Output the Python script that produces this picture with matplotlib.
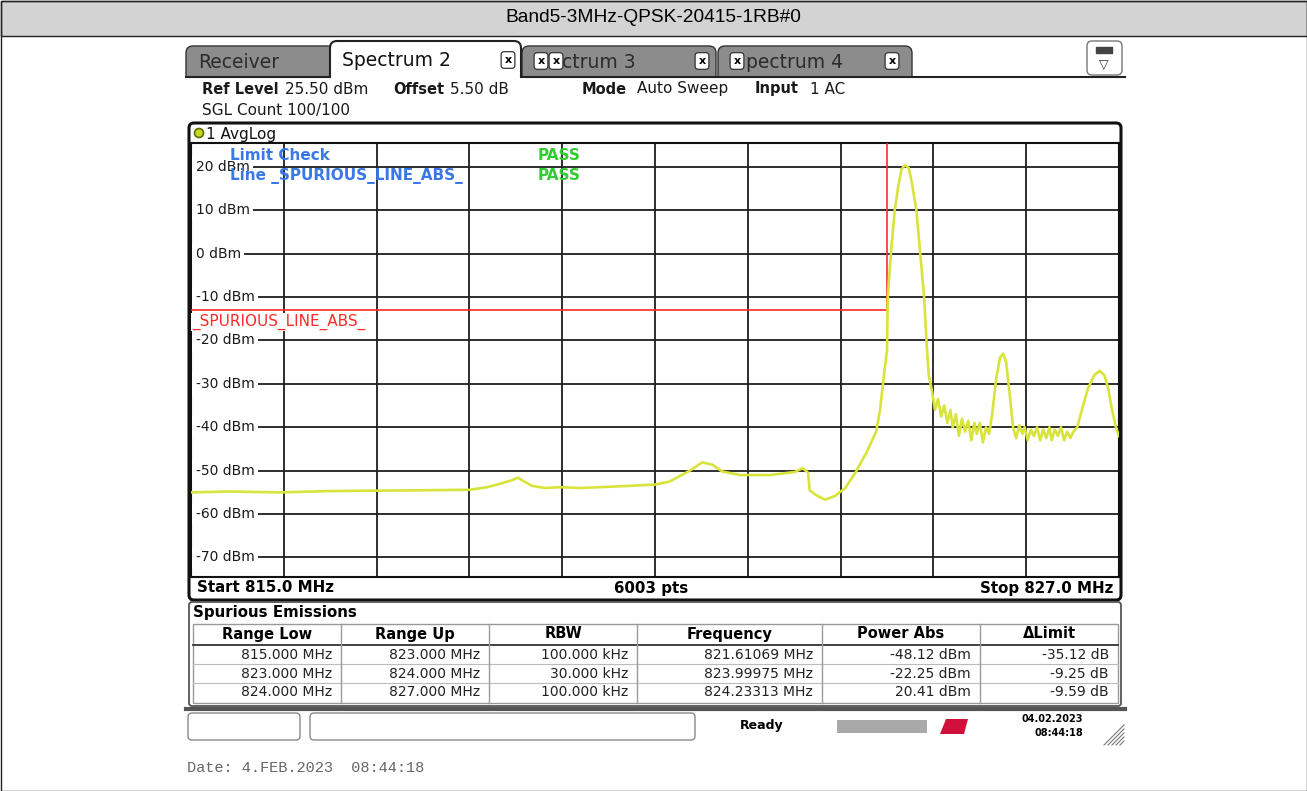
import numpy as np
import matplotlib.pyplot as plt
from matplotlib.patches import Rectangle, FancyBboxPatch, Circle, Polygon

plt.rcParams['font.family'] = 'DejaVu Sans'

W, H = 1307, 791
title = 'Band5-3MHz-QPSK-20415-1RB#0'

# trace (MHz / dBm)
freq = [815.00, 815.50, 816.15, 816.80, 817.44, 818.09, 818.61, 818.83, 819.00, 819.15,
        819.23, 819.29, 819.41, 819.58, 819.77, 820.03, 820.55, 821.00, 821.19, 821.45,
        821.61, 821.74, 821.87, 822.10, 822.49, 822.81, 822.91, 822.98, 823.00, 823.07,
        823.20, 823.33, 823.46, 823.59, 823.73, 823.86, 823.91, 823.96, 824.00, 824.01,
        824.05, 824.10, 824.15, 824.19, 824.23, 824.28, 824.32, 824.38, 824.43, 824.48,
        824.51, 824.54,
        824.58, 824.62, 824.66, 824.70, 824.74, 824.78, 824.82, 824.85, 824.89, 824.93,
        824.97, 825.01, 825.05, 825.09, 825.13, 825.16, 825.20, 825.24, 825.28, 825.32,
        825.36, 825.41, 825.46, 825.50, 825.54, 825.59, 825.63, 825.67, 825.71, 825.75,
        825.78, 825.82, 825.86, 825.90, 825.94, 825.98, 826.02, 826.06, 826.10, 826.13,
        826.17, 826.21, 826.25, 826.29, 826.33, 826.37, 826.41, 826.46, 826.52, 826.60,
        826.68, 826.75, 826.81, 826.86, 826.91, 826.96, 827.00]
level = [-55.0, -54.8, -55.0, -54.7, -54.6, -54.5, -54.4, -53.8, -53.0, -52.2,
         -51.6, -52.3, -53.5, -54.0, -53.8, -54.0, -53.6, -53.2, -52.5, -50.0,
         -48.1, -48.6, -50.2, -51.0, -51.0, -50.3, -49.4, -50.5, -54.5, -55.5,
         -56.7, -55.8, -54.0, -50.5, -46.0, -41.0, -36.0, -28.0, -22.3, -10.0,
         0.0, 10.0, 16.0, 19.5, 20.4, 19.8, 16.5, 10.0, 0.0, -10.0,
         -20.0, -28.0,
         -31.5, -36.0, -33.5, -37.5, -35.0, -39.0, -36.0, -40.0, -37.0, -42.0,
         -38.0, -41.0, -38.5, -43.0, -39.0, -41.5, -39.0, -43.5, -40.0, -41.5,
         -37.0, -29.0, -24.0, -23.0, -25.0, -33.0, -40.0, -42.5, -39.5, -41.5,
         -40.0, -43.0, -40.5, -42.0, -40.0, -43.0, -40.5, -42.5, -40.0, -43.0,
         -40.5, -42.0, -40.0, -43.0, -41.0, -42.5, -41.0, -40.0, -36.0, -31.0,
         -28.0, -27.0, -28.0, -31.0, -36.0, -40.0, -42.0]

# spurious limit line
limit_f = [815.0, 824.0, 824.0, 827.0]
limit_v = [-13.0, -13.0, 30.0, 30.0]

y_levels = [20, 10, 0, -10, -20, -30, -40, -50, -60, -70]

# result table
tbl_cols = ['Range Low', 'Range Up', 'RBW', 'Frequency', 'Power Abs', 'ΔLimit']
range_low = ['815.000 MHz', '823.000 MHz', '824.000 MHz']
range_up = ['823.000 MHz', '824.000 MHz', '827.000 MHz']
rbw = ['100.000 kHz', '30.000 kHz', '100.000 kHz']
peak_freq = ['821.61069 MHz', '823.99975 MHz', '824.23313 MHz']
power_abs = ['-48.12 dBm', '-22.25 dBm', '20.41 dBm']
delta_lim = ['-35.12 dB', '-9.25 dB', '-9.59 dB']

fig = plt.figure(figsize=(W / 100, H / 100), dpi=100)
ax0 = fig.add_axes([0, 0, 1, 1])
ax0.set_xlim(0, W)
ax0.set_ylim(H, 0)
ax0.axis('off')
P = ax0.transData   # pixel coords, y down


def rbox(x0, y0, x1, y1, r=6, z=1, **kw):
    p = FancyBboxPatch((x0, y0), x1 - x0, y1 - y0,
                       boxstyle='round,pad=0,rounding_size=%s' % r, zorder=z, **kw)
    ax0.add_patch(p)


def xbtn(x, y):
    ax0.text(x, y, 'x', ha='center', va='center', fontsize=8, fontweight='bold', zorder=8,
             bbox=dict(boxstyle='round,pad=0.3', fc='white', ec='#333', lw=0.9))


# title bar + outer border
ax0.add_patch(Rectangle((0.5, 0.5), W - 1, 35, fc='#d3d3d3', ec='#222', lw=1))
ax0.add_patch(Rectangle((0.5, 0.5), W - 1, H - 1, fill=False, ec='#222', lw=1))
ax0.text(W / 2, 18, title, ha='center', va='center', fontsize=13.8, family='Liberation Sans')

# tabs
rbox(186, 46, 336, 95, r=7, z=2, fc='#8c8c8c', ec='#333', lw=1)
rbox(522, 46, 716, 95, r=7, z=2, fc='#8c8c8c', ec='#333', lw=1)
rbox(718, 46, 912, 95, r=7, z=2, fc='#8c8c8c', ec='#333', lw=1)
rbox(330, 41, 521, 95, r=7, z=3, fc='white', ec='#222', lw=1.5)
ax0.add_patch(Rectangle((180, 77), 950, 40, fc='white', ec='none', zorder=4))
ax0.plot([186, 330], [76.5, 76.5], color='#222', lw=1.5, zorder=5)
ax0.plot([521, 1125], [76.5, 76.5], color='#222', lw=1.5, zorder=5)
ax0.text(198, 62, 'Receiver', fontsize=13.5, color='#2b2b2b', va='center', zorder=6)
ax0.text(342, 61, 'Spectrum 2', fontsize=13.5, color='#111', va='center', zorder=6)
xbtn(508, 60)
xbtn(541, 61)
xbtn(556, 61)
ax0.text(562, 62, 'ctrum 3', fontsize=13.5, color='#2b2b2b', va='center', zorder=6)
xbtn(702, 61)
xbtn(737, 61)
ax0.text(746, 62, 'pectrum 4', fontsize=13.5, color='#2b2b2b', va='center', zorder=6)
xbtn(892, 61)
rbox(1087, 41, 1122, 75, r=5, z=2, fc='white', ec='#777', lw=1)
ax0.add_patch(Rectangle((1096, 47), 16, 6, fc='#444', ec='#444', zorder=3))
ax0.text(1104, 65, '▽', ha='center', va='center', fontsize=9, color='#333', zorder=3)

# settings lines
hdr = [(202, 'Ref Level', True), (285, '25.50 dBm', False), (393, 'Offset', True),
       (450, '5.50 dB', False), (582, 'Mode', True), (637, 'Auto Sweep', False),
       (755, 'Input', True), (810, '1 AC', False)]
for x, s, b in hdr:
    ax0.text(x, 89, s, fontsize=10.5 if b else 11, fontweight='bold' if b else 'normal',
             color='#1a1a1a', va='center', zorder=6)
ax0.text(202, 111, 'SGL Count 100/100', fontsize=11, color='#1a1a1a', va='center', zorder=6)

# graph frame
rbox(189, 123, 1121, 600, r=5, z=2, fc='white', ec='#111', lw=2.2)
ax0.add_patch(Circle((199, 133), 4.5, fc='#c8d82a', ec='#5a6e00', lw=1.2, zorder=3))
ax0.text(206, 134, '1 AvgLog', fontsize=11, va='center', color='#111', zorder=3)
ax0.text(197, 588, 'Start 815.0 MHz', fontsize=10.8, fontweight='bold', va='center', zorder=3)
ax0.text(651, 588, '6003 pts', fontsize=10.8, fontweight='bold', va='center', ha='center', zorder=3)
ax0.text(1113, 588, 'Stop 827.0 MHz', fontsize=10.8, fontweight='bold', va='center', ha='right', zorder=3)

# spectrum grid
ax = fig.add_axes([191 / W, 1 - 577 / H, 928 / W, 434 / H])
ax.set_xlim(815, 827)
ax.set_ylim(-74.5, 25.5)
ax.set_xticks(np.linspace(815, 827, 11))
ax.set_yticks(y_levels)
ax.grid(True, color='#1e1e1e', lw=1.3)
ax.tick_params(length=0, labelbottom=False, labelleft=False)
for s in ax.spines.values():
    s.set_color('#111')
    s.set_linewidth(1.5)

ax.plot(limit_f, limit_v, color='#ff2a2a', lw=1.2, zorder=3)
ax.plot(freq, level, color='#d8e43a', lw=1.9, zorder=4)

for v in y_levels:
    ax.text(0.005, v, '%d dBm' % v, transform=ax.get_yaxis_transform(), ha='left', va='center',
            fontsize=10, color='#1a1a1a', zorder=5,
            bbox=dict(fc='white', ec='none', pad=2.5))
ax.text(192, 322, '_SPURIOUS_LINE_ABS_', transform=P, fontsize=11, color='#ff2a2a',
        va='center', zorder=5, bbox=dict(fc='white', ec='none', pad=0.5))
ax.text(230, 155, 'Limit Check', transform=P, fontsize=11, fontweight='bold',
        color='#3b78e7', va='center', zorder=6)
ax.text(230, 176, 'Line _SPURIOUS_LINE_ABS_', transform=P, fontsize=11, fontweight='bold',
        color='#3b78e7', va='center', zorder=6)
ax.text(538, 155, 'PASS', transform=P, fontsize=11, fontweight='bold', color='#33cc33',
        va='center', zorder=6)
ax.text(538, 176, 'PASS', transform=P, fontsize=11, fontweight='bold', color='#33cc33',
        va='center', zorder=6)

# spurious emissions table
rbox(189, 602, 1121, 706, r=3, z=2, fc='white', ec='#555', lw=1.3)
ax0.text(193, 612, 'Spurious Emissions', fontsize=10.8, fontweight='bold', va='center', zorder=3)
col_x = [193, 341, 489, 637, 822, 980, 1118]
ax0.add_patch(Rectangle((193, 624), 925, 79, fill=False, ec='#999', lw=1, zorder=3))
ax0.plot([193, 1118], [645, 645], color='#333', lw=1.3, zorder=3)
for yy in [664, 683]:
    ax0.plot([193, 1118], [yy, yy], color='#bbb', lw=0.8, zorder=3)
for xx in col_x[1:-1]:
    ax0.plot([xx, xx], [624, 703], color='#999', lw=1, zorder=3)
for i, c in enumerate(tbl_cols):
    ax0.text((col_x[i] + col_x[i + 1]) / 2, 634, c, ha='center', va='center',
             fontsize=10.5, fontweight='bold', zorder=4)
cols = [range_low, range_up, rbw, peak_freq, power_abs, delta_lim]
row_y = [655, 674, 692]
for i, col in enumerate(cols):
    for j, s in enumerate(col):
        ax0.text(col_x[i + 1] - 9, row_y[j], s, ha='right', va='center',
                 fontsize=10, color='#222', zorder=4)

# status bar
ax0.plot([186, 1125], [709, 709], color='#555', lw=3, zorder=2)
rbox(188, 713, 300, 740, r=4, z=2, fc='white', ec='#888', lw=1)
rbox(310, 713, 695, 740, r=4, z=2, fc='white', ec='#888', lw=1)
ax0.text(740, 726, 'Ready', fontsize=9, fontweight='bold', va='center')
ax0.add_patch(Rectangle((837, 720), 90, 13, fc='#a9a9a9', ec='none'))
ax0.add_patch(Polygon([[940, 734], [946, 719], [968, 719], [964, 734]], fc='#d0103a', ec='none'))
ax0.text(1083, 719, '04.02.2023', ha='right', va='center', fontsize=7, fontweight='bold')
ax0.text(1083, 733, '08:44:18', ha='right', va='center', fontsize=7, fontweight='bold')
for k in range(5):
    ax0.plot([1104 + 4 * k, 1124], [745, 725 + 4 * k], color='#777', lw=0.8)

ax0.text(187, 768, 'Date: 4.FEB.2023  08:44:18', family='Liberation Mono', fontsize=11,
         color='#666', va='center')

fig.savefig('out.png', dpi=100)
